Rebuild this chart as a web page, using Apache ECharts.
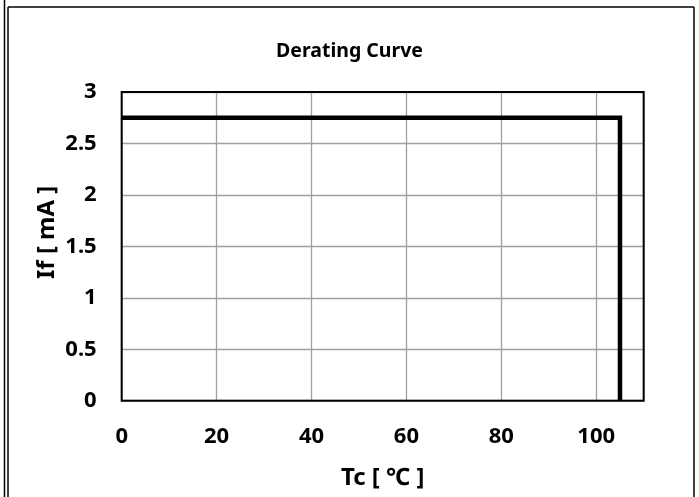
<!DOCTYPE html>
<html>
<head>
<meta charset="utf-8">
<script src="https://cdn.jsdelivr.net/npm/echarts@6/dist/echarts.min.js"></script>
<style>html,body{margin:0;padding:0;background:#fff;}#c{width:699px;height:497px;}</style>
</head>
<body>
<div id="c"></div>
<script>
var titleText = 'Derating Curve';
var xName = 'Tc [ ℃ ]';
var yName = 'If [ mA ]';
var tcValues = [0, 105, 105];
var ifValues = [2.75, 2.75, 0];

var FONT = '"Noto Sans", "Open Sans", sans-serif';
var chart = echarts.init(document.getElementById('c'), null, {renderer: 'canvas'});
var seriesData = tcValues.map(function (t, i) { return [t, ifValues[i]]; });

var G = {left: 121.7, top: 92, right: 55.3, bottom: 96.3};
var gw = 699 - G.left - G.right, gh = 497 - G.top - G.bottom;

chart.setOption({
  animation: false,
  backgroundColor: '#fff',
  title: {
    text: titleText, left: 'center', top: 36,
    textStyle: {fontFamily: FONT, fontWeight: 'bold', fontSize: 19.5, color: '#000'}
  },
  grid: {left: G.left, right: G.right, top: G.top, bottom: G.bottom, show: false, containLabel: false, outerBoundsMode: 'none'},
  xAxis: {
    type: 'value', min: 0, max: 110, interval: 20,
    name: xName, nameLocation: 'middle', nameGap: 65, nameMoveOverlap: false,
    nameTextStyle: {fontFamily: FONT, fontWeight: 'bold', fontSize: 24, color: '#000'},
    axisLine: {show: false}, axisTick: {show: false},
    axisLabel: {showMaxLabel: false, margin: 25, fontFamily: FONT, fontWeight: 'bold', fontSize: 22, color: '#000'},
    splitLine: {show: true, lineStyle: {color: '#a0a0a0', width: 1.3}}
  },
  yAxis: {
    type: 'value', min: 0, max: 3, interval: 0.5,
    name: yName, nameLocation: 'middle', nameGap: 63, nameRotate: 90, nameMoveOverlap: false,
    nameTextStyle: {fontFamily: FONT, fontWeight: 'bold', fontSize: 24, color: '#000', padding: [0, 0, 0, 28]},
    axisLine: {show: false}, axisTick: {show: false},
    axisLabel: {margin: 25, fontFamily: FONT, fontWeight: 'bold', fontSize: 22, color: '#000'},
    splitLine: {show: true, lineStyle: {color: '#a0a0a0', width: 1.3}}
  },
  series: [{
    type: 'line', data: seriesData, showSymbol: false, symbol: 'none',
    lineStyle: {color: '#000', width: 4.5, join: 'miter'}, z: 5
  }],
  graphic: [
    {type: 'rect', z: 10, shape: {x: G.left, y: G.top, width: gw, height: gh}, style: {fill: 'none', stroke: '#000', lineWidth: 2}},
    {type: 'line', shape: {x1: 8, y1: 7, x2: 694, y2: 7}, style: {stroke: '#000', lineWidth: 1.5}},
    {type: 'line', shape: {x1: 8, y1: 7, x2: 8, y2: 497}, style: {stroke: '#000', lineWidth: 1.5}},
    {type: 'line', shape: {x1: 4.5, y1: 0, x2: 4.5, y2: 497}, style: {stroke: '#000', lineWidth: 1.5}},
    {type: 'line', shape: {x1: 694, y1: 7, x2: 694, y2: 497}, style: {stroke: '#000', lineWidth: 1.5}}
  ]
});
</script>
</body>
</html>
